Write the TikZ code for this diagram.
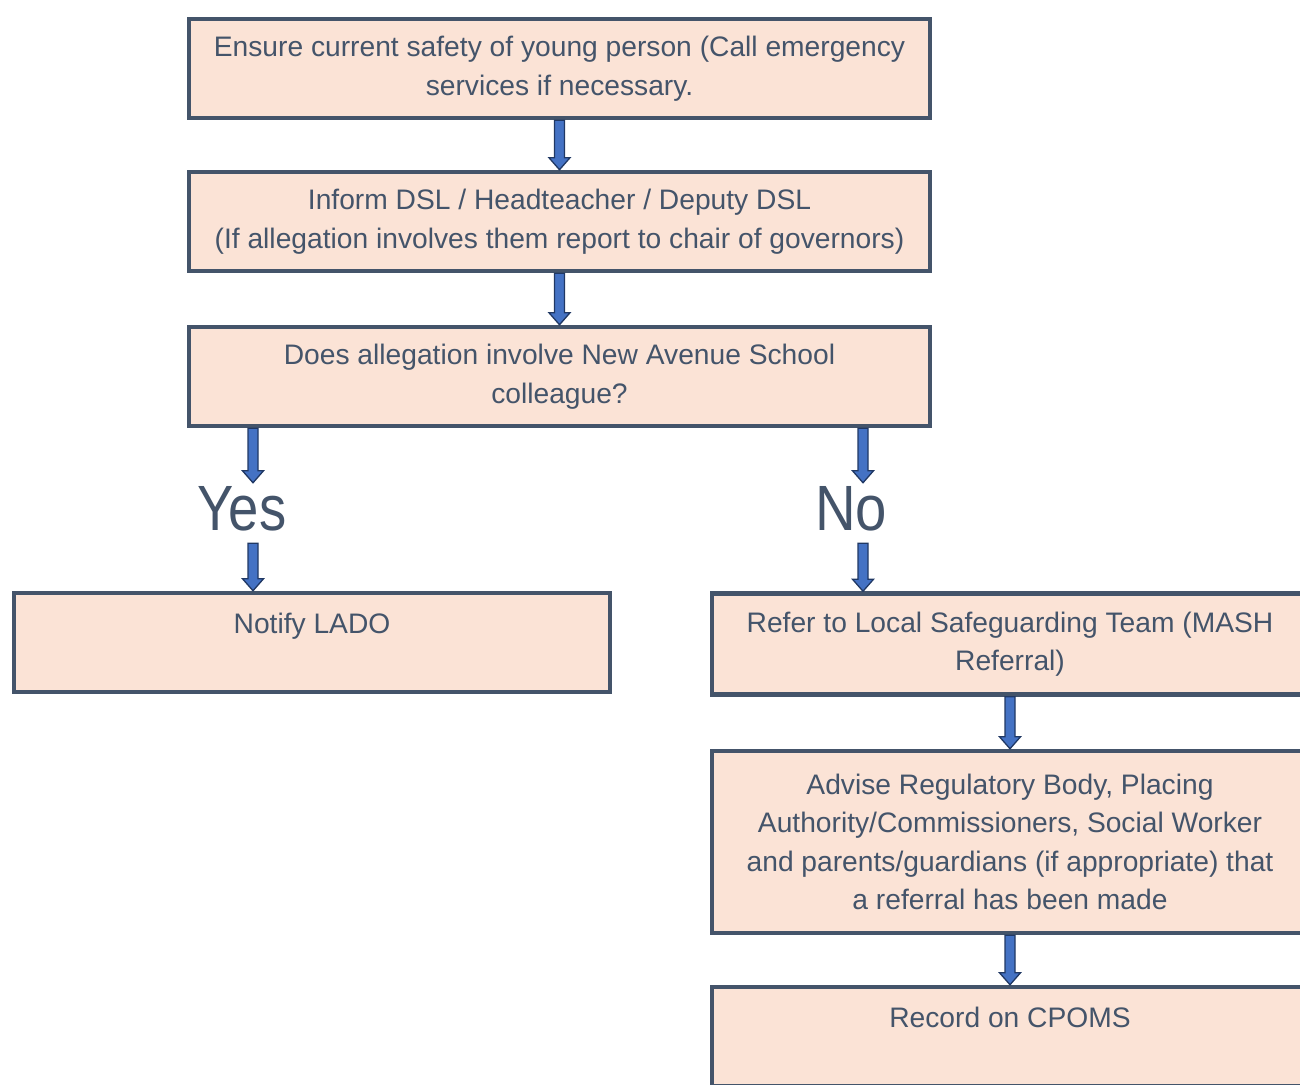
\documentclass[tikz,border=0pt]{standalone}
\usepackage{fontspec}
\setmainfont{Liberation Sans}
\usepackage{xcolor}
\usepackage{graphicx}
\usepackage{tikz}
\usetikzlibrary{calc}
\definecolor{boxline}{RGB}{68, 84, 106}
\definecolor{boxfill}{RGB}{251, 227, 214}
\definecolor{arrowblue}{RGB}{68, 114, 196}
\definecolor{arrowedge}{RGB}{32, 56, 100}

\tikzset{
  flowbox/.style={draw=boxline, fill=boxfill, line width=4.5pt, text=boxline,
    align=center, inner sep=0pt, font=\fontsize{28.2}{38.5}\selectfont},
  widebox/.style={flowbox, minimum width=741pt, minimum height=99pt},
  sidebox/.style={flowbox, minimum width=596pt, minimum height=99pt},
  branch/.style={text=boxline, inner xsep=0pt, inner ysep=3pt, text depth=10pt,
    font=\fontsize{64}{64}\selectfont, anchor=base},
  blockarrow/.style={fill=arrowblue, draw=arrowedge, line width=1.3pt, line join=miter}
}

% block arrow pointing down, from #1 to #2
\newcommand{\blockdown}[2]{%
  \draw[blockarrow] let \p1=#1, \p2=#2 in
    (\x1-5pt,\y1) -- (\x1+5pt,\y1) -- (\x1+5pt,\y2+12pt) -- (\x1+10.5pt,\y2+12pt)
    -- (\x1,\y2) -- (\x1-10.5pt,\y2+12pt) -- (\x1-5pt,\y2+12pt) -- cycle;}

\begin{document}
\begin{tikzpicture}[x=1pt, y=-1pt]
  \useasboundingbox (0,0) rectangle (1300,1084);

  % main column
  \node[widebox] (safety) at (559.5,68.5) {Ensure current safety of young person (Call emergency\\services if necessary.};
  \node[widebox] (inform) at (559.5,221.5) {Inform DSL / Headteacher / Deputy DSL\\(If allegation involves them report to chair of governors)};
  \node[widebox] (involve) at (559.5,376.5) {Does allegation involve New Avenue School\\colleague?};

  % yes / no
  \coordinate (yesx) at (253,0);
  \coordinate (nox) at (863,0);
  \node[branch] (yes) at (242,530) {\scalebox{0.85}[1]{Yes}};
  \node[branch] (no) at (851,530) {\scalebox{0.88}[1]{No}};

  % branches
  \node[sidebox] (lado) at (312,642.5) {Notify LADO\\\mbox{}};
  \node[sidebox, minimum height=101pt] (mash) at (1010,644) {Refer to Local Safeguarding Team (MASH\\Referral)};
  \node[sidebox, minimum height=182pt] (advise) at (1010,842) {Advise Regulatory Body, Placing\\Authority/Commissioners, Social Worker\\and parents/guardians (if appropriate) that\\a referral has been made};
  \node[sidebox] (cpoms) at (1010,1036.5) {Record on CPOMS\\\mbox{}};

  % arrows
  \blockdown{(safety.south)}{(inform.north)}
  \blockdown{(inform.south)}{(involve.north)}
  \blockdown{(involve.south -| yesx)}{(yes.north -| yesx)}
  \blockdown{(yes.south -| yesx)}{(lado.north -| yesx)}
  \blockdown{(involve.south -| nox)}{(no.north -| nox)}
  \blockdown{(no.south -| nox)}{(mash.north -| nox)}
  \blockdown{(mash.south)}{(advise.north)}
  \blockdown{(advise.south)}{(cpoms.north)}
\end{tikzpicture}
\end{document}
